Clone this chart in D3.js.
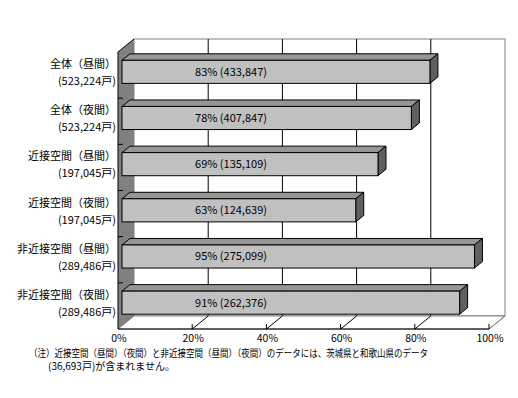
<!DOCTYPE html>
<html>
<head>
<meta charset="utf-8">
<script src="https://cdn.jsdelivr.net/npm/d3@7"></script>
<style>
body { margin:0; background:#fff; }
text { font-family:"Noto Sans CJK JP","Noto Sans",sans-serif; fill:#000; }
</style>
</head>
<body>
<div id="chart"></div>
<script>
//data
var categories = ["全体（昼間）","全体（夜間）","近接空間（昼間）","近接空間（夜間）","非近接空間（昼間）","非近接空間（夜間）"];
var households = ["(523,224戸)","(523,224戸)","(197,045戸)","(197,045戸)","(289,486戸)","(289,486戸)"];
var percents = [83, 78, 69, 63, 95, 91];
var counts = ["433,847","407,847","135,109","124,639","275,099","262,376"];
var ticks = [0, 20, 40, 60, 80, 100];
var note1 = "（注）近接空間（昼間）（夜間）と非近接空間（昼間）（夜間）のデータには、茨城県と和歌山県のデータ";
var note2 = "(36,693戸)が含まれません。";

//init some global vars
var width = 518;
var height = 398;
var frontLeft = 118;
var frontRight = 489;
var frontTop = 52;
var frontBottom = 329;
var depth = 16;      // floor / wall depth in px (x)
var slope = 13/16;   // y shift per px of depth
var barFront = 4;    // bar front face depth
var barBack = 12;    // bar back face depth

var svg = d3.select("#chart").append("svg")
.attr("width", width)
.attr("height", height);

var x = d3.scaleLinear().domain([0,100]).range([frontLeft, frontRight]);
var y = d3.scaleBand().domain(categories).range([frontTop, frontBottom])
.paddingInner(0.5).paddingOuter(0.25);

function pts(a){ return a.map(function(p){ return p.join(","); }).join(" "); }

//back wall
svg.append("rect")
.attr("x", frontLeft+depth)
.attr("y", frontTop-depth*slope)
.attr("width", frontRight-frontLeft)
.attr("height", frontBottom-frontTop)
.style("fill","#fff")
.style("stroke","#808080");

//gridlines on back wall
svg.selectAll(".grid")
.data(ticks.slice(1,-1))
.enter().append("line")
.attr("x1", function(d){ return x(d)+depth; })
.attr("x2", function(d){ return x(d)+depth; })
.attr("y1", frontTop-depth*slope)
.attr("y2", frontBottom-depth*slope)
.style("stroke","#000");

//floor
svg.append("polygon")
.attr("points", pts([[frontLeft,frontBottom],[frontLeft+depth,frontBottom-depth*slope],
	[frontRight+depth,frontBottom-depth*slope],[frontRight,frontBottom]]))
.style("fill","#fff")
.style("stroke","#808080");

//floor diagonals + ticks
svg.selectAll(".fdiag")
.data(ticks.slice(1))
.enter().append("line")
.attr("x1", function(d){ return x(d); })
.attr("x2", function(d){ return x(d)+depth; })
.attr("y1", frontBottom)
.attr("y2", frontBottom-depth*slope)
.style("stroke", function(d){ return d==100 ? "#808080" : "#000"; });

svg.selectAll(".xtick")
.data(ticks.slice(1))
.enter().append("line")
.attr("x1", function(d){ return x(d); })
.attr("x2", function(d){ return x(d); })
.attr("y1", frontBottom-5)
.attr("y2", frontBottom)
.style("stroke","#000");

//left wall
svg.append("polygon")
.attr("points", pts([[frontLeft,frontTop],[frontLeft+depth,frontTop-depth*slope],
	[frontLeft+depth,frontBottom-depth*slope],[frontLeft,frontBottom]]))
.style("fill","#808080");
svg.append("polyline")
.attr("points", pts([[frontLeft,frontBottom],[frontLeft,frontTop],[frontLeft+depth,frontTop-depth*slope]]))
.style("fill","none")
.style("stroke","#000");

//category ticks on the wall
svg.selectAll(".ytick")
.data(d3.range(1,categories.length))
.enter().append("line")
.attr("x1", frontLeft)
.attr("x2", frontLeft+5)
.attr("y1", function(i){ return frontTop+i*(frontBottom-frontTop)/categories.length; })
.attr("y2", function(i){ return frontTop+i*(frontBottom-frontTop)/categories.length; })
.style("stroke","#000");

//front x axis
svg.append("line")
.attr("x1", frontLeft).attr("x2", frontRight)
.attr("y1", frontBottom).attr("y2", frontBottom)
.style("stroke","#000");

//bars
var bars = svg.selectAll(".bar")
.data(categories)
.enter().append("g");

bars.each(function(c, i){
	var g = d3.select(this);
	var x0 = x(0)+barFront, x1 = x(percents[i])+barFront;
	var y0 = y(c)-barFront*slope, y1 = y0+y.bandwidth();
	var d = barBack-barFront, dy = d*slope;
	//top face
	g.append("polygon")
	.attr("points", pts([[x0,y0],[x0+d,y0-dy],[x1+d,y0-dy],[x1,y0]]))
	.style("fill","#969696").style("stroke","#000").style("stroke-linejoin","round");
	//side face
	g.append("polygon")
	.attr("points", pts([[x1,y0],[x1+d,y0-dy],[x1+d,y1-dy],[x1,y1]]))
	.style("fill","#606060").style("stroke","#000").style("stroke-linejoin","round");
	//front face
	g.append("rect")
	.attr("x", x0).attr("y", y0)
	.attr("width", x1-x0).attr("height", y1-y0)
	.style("fill","#c0c0c0").style("stroke","#000");
	//value label
	g.append("text")
	.attr("x", 231)
	.attr("y", (y0+y1)/2+1)
	.attr("text-anchor","middle")
	.attr("dominant-baseline","middle")
	.style("font-size","11px")
	.text(percents[i]+"% ("+counts[i]+")");
});

//category labels
var labels = svg.selectAll(".ylab")
.data(categories)
.enter().append("text")
.attr("x", 116)
.attr("text-anchor","end")
.style("font-size","11px");
labels.append("tspan")
.attr("x", 116)
.attr("y", function(c){ return y(c)+y.bandwidth()/2-10; })
.attr("dominant-baseline","middle")
.text(function(c){ return c; });
labels.append("tspan")
.attr("x", 116)
.attr("y", function(c, i){ return y(c)+y.bandwidth()/2+7; })
.attr("dominant-baseline","middle")
.text(function(c, i){ return households[i]; });

//x tick labels
svg.selectAll(".xlab")
.data(ticks)
.enter().append("text")
.attr("x", function(d){ return x(d)+1; })
.attr("y", 339)
.attr("text-anchor","middle")
.attr("dominant-baseline","middle")
.style("font-size","10.5px")
.text(function(d){ return d+"%"; });

//footnote
svg.append("text")
.attr("x", 29).attr("y", 354)
.attr("dominant-baseline","middle")
.attr("textLength", 399)
.attr("lengthAdjust","spacingAndGlyphs")
.style("font-size","10px")
.text(note1);
svg.append("text")
.attr("x", 48).attr("y", 367)
.attr("dominant-baseline","middle")
.style("font-size","10px")
.text(note2);
</script>
</body>
</html>
